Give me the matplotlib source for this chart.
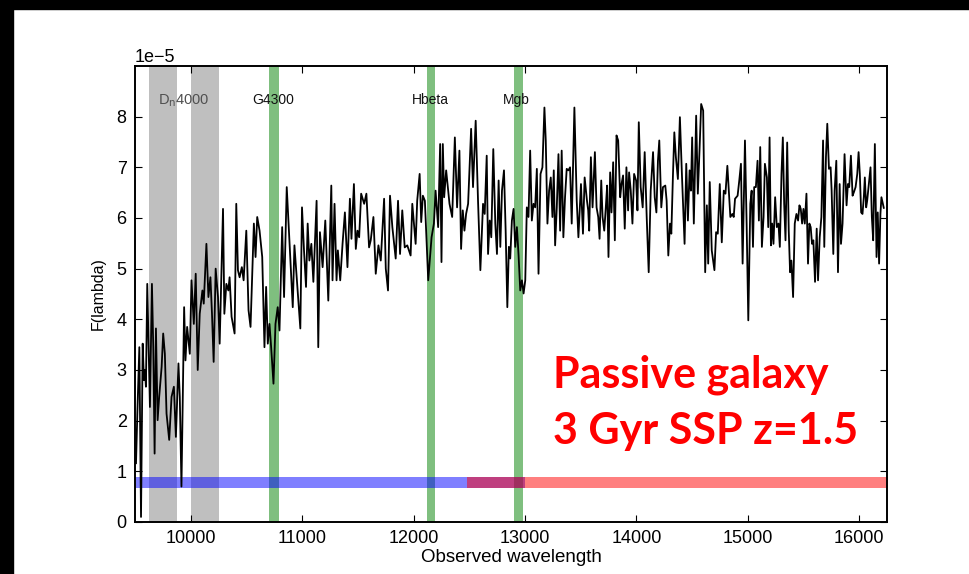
import matplotlib
matplotlib.use("Agg")
import matplotlib.pyplot as plt
import numpy as np
from matplotlib.patches import Rectangle

plt.rcParams['font.family'] = ['Liberation Sans', 'DejaVu Sans']
plt.rcParams['mathtext.default'] = 'regular'

# spectrum (wavelength in A, flux in units of 1e-5)
wave = [9509, 9521, 9539, 9554, 9569, 9580, 9589, 9598, 9610, 9619, 9634, 9652, 9664, 9676, 9688,
        9703, 9717, 9739, 9753, 9768, 9783, 9807, 9828, 9849, 9867, 9890, 9902, 9917, 9941, 9953,
        9968, 9992, 10007, 10028, 10045, 10063, 10081, 10105, 10117, 10141, 10159, 10177, 10191,
        10206, 10224, 10245, 10260, 10290, 10302, 10320, 10338, 10349, 10367, 10394, 10409, 10424,
        10439, 10459, 10475, 10499, 10519, 10537, 10567, 10582, 10597, 10618, 10642, 10662, 10677,
        10692, 10707, 10722, 10743, 10761, 10781, 10797, 10821,
        10838, 10862, 10886, 10916, 10931, 10951, 10984, 10999, 11017, 11035, 11050, 11065, 11083,
        11101, 11130, 11145, 11160, 11184, 11208, 11235, 11262, 11273, 11291, 11309, 11321, 11342,
        11363, 11384, 11407, 11429, 11443, 11465, 11482, 11497, 11512, 11530, 11557, 11577, 11601,
        11616, 11640, 11661, 11685, 11706, 11736, 11751, 11771, 11789, 11810, 11840, 11861, 11879,
        11899, 11921, 11944, 11974, 11989, 12019, 12033, 12055, 12069, 12084, 12102, 12132, 12162,
        12183, 12198, 12221, 12239, 12251, 12263, 12275, 12293, 12311, 12323, 12347, 12371, 12391,
        12412, 12427, 12442, 12457, 12472, 12490, 12517, 12534, 12558, 12579, 12600, 12624, 12639,
        12657, 12669, 12684, 12698, 12716, 12734, 12749, 12764, 12779, 12794, 12812, 12827, 12842,
        12856, 12868, 12883, 12898, 12913, 12928, 12943, 12958, 12973, 12988, 13003, 13017, 13032,
        13047, 13062, 13077, 13092, 13107, 13122, 13140, 13157, 13175, 13187, 13202, 13217, 13232,
        13247, 13259, 13271, 13286, 13301, 13316, 13330, 13345, 13360, 13375, 13390, 13405, 13420,
        13444, 13465, 13480,
        13503, 13521, 13536, 13557, 13568, 13577, 13592, 13607, 13628, 13643, 13658, 13670, 13685,
        13697, 13712, 13726, 13738, 13750, 13765, 13777, 13792, 13807, 13822, 13837, 13855, 13867,
        13881, 13896, 13911, 13926, 13935, 13950, 13965, 13980, 13998, 14010, 14022, 14039, 14057,
        14075, 14093, 14111, 14129, 14150, 14165, 14180, 14194, 14206, 14224, 14239, 14260, 14272,
        14287, 14302, 14314, 14329, 14341, 14355, 14373, 14391, 14409, 14433, 14448, 14463, 14478,
        14490, 14501, 14516, 14537, 14552, 14567, 14582, 14600, 14618, 14633, 14645, 14659, 14677,
        14701, 14716, 14731, 14749, 14767, 14785, 14800, 14817,
        14844, 14862, 14874, 14886, 14909, 14924, 14939, 14954, 14975, 14990, 15005, 15023, 15035,
        15047, 15058, 15073, 15088, 15100, 15112, 15127, 15142, 15154, 15172, 15184, 15196, 15208,
        15219, 15231, 15246, 15261, 15276, 15288, 15303, 15315, 15327, 15339, 15354, 15368, 15380,
        15392, 15407, 15422, 15437, 15452, 15464, 15476, 15488, 15500, 15512, 15527, 15541, 15553,
        15565, 15577, 15589, 15604, 15619, 15631, 15646, 15661, 15676, 15687, 15702, 15714, 15729,
        15744, 15753, 15768, 15780, 15795, 15810, 15825, 15837, 15851, 15869, 15887, 15899, 15911,
        15926, 15941, 15953, 15968, 15983, 15995, 16006, 16018, 16030, 16042, 16051, 16063, 16072,
        16084, 16102, 16114, 16126, 16141, 16156, 16167, 16179, 16191, 16200, 16221]

flux = [1.16, 2.14, 3.45, 0.10, 3.52, 2.80, 3.00, 2.67, 4.70, 3.78, 2.27, 4.70, 3.45, 1.35, 3.82,
        2.01, 2.47, 3.06, 3.72, 3.32, 2.14, 1.62, 2.47, 2.67, 1.68, 3.13, 2.47, 0.70, 4.24, 3.19,
        3.85, 3.32, 4.77, 3.91, 4.90, 3.00, 4.11, 4.57, 4.31, 5.49, 4.44, 4.83, 4.11,
        3.16, 5.00, 4.44, 3.52, 6.18, 4.11, 4.70, 4.57, 4.83, 4.05, 3.72, 6.28, 4.97,
        4.83, 5.03, 4.77, 5.75, 4.18, 3.85, 5.89, 5.23, 6.02, 5.75, 5.23, 3.45, 4.64,
        3.52, 3.91, 3.45, 2.73, 3.91, 4.24, 3.78, 5.82,
        4.44, 6.61, 5.56, 4.24, 5.46, 4.83, 3.82, 6.21, 5.36, 4.64, 5.89, 5.16, 5.49,
        4.74, 6.34, 3.45, 5.72, 5.03, 5.95, 4.37, 6.64, 4.77, 6.28, 4.77, 5.36, 4.77,
        5.49, 6.11, 5.03, 6.38, 5.59, 6.67, 5.39, 5.75, 5.62, 6.48, 6.28, 6.48, 5.42,
        5.56, 6.02, 4.90, 5.46, 5.16, 6.38, 5.00, 4.57, 6.44, 5.82, 5.20, 6.34, 5.29,
        6.15, 5.42, 5.46, 5.26, 6.28, 5.49, 6.34, 6.87, 5.92, 6.44, 6.34, 4.77, 5.62,
        5.89, 6.54, 5.82, 7.46, 5.13, 7.46, 6.41, 6.94, 6.54, 6.28, 6.02, 7.59, 6.21,
        7.33, 5.39, 6.15, 5.75, 6.08, 6.28, 7.76, 6.61, 7.92, 6.34, 4.97, 6.28, 6.08,
        7.23, 5.29, 5.95, 5.62, 7.36, 5.89, 5.29, 6.74, 5.43, 6.54, 6.94, 5.75, 4.24,
        5.43, 5.20, 5.95, 6.18, 5.43, 5.82, 5.26, 4.57, 4.77, 4.51, 4.77, 6.21, 6.02,
        7.33, 5.95, 6.28, 6.21, 6.97, 4.90, 6.87, 7.00, 8.18, 7.53, 5.89, 6.54, 6.80,
        6.02, 6.94, 5.46, 6.21, 7.26, 5.75, 7.33, 5.62, 6.41, 6.97, 6.94, 7.00, 5.89,
        8.18, 6.34, 5.62,
        6.67, 5.69, 6.80, 6.34, 6.15, 5.75, 7.20, 6.21, 7.30, 6.21, 6.02, 5.59, 6.74,
        6.02, 5.75, 6.21, 6.64, 5.23, 6.90, 6.11, 7.10, 5.56, 7.63, 7.53, 6.41, 6.67,
        6.84, 5.79, 7.00, 6.15, 6.90, 6.54, 5.89, 6.87, 6.74, 6.15, 7.89, 6.61, 6.21,
        7.30, 6.02, 4.93, 6.54, 7.30, 6.41, 6.11, 7.13, 7.53, 6.21, 6.61, 6.64, 6.34,
        5.26, 5.89, 5.69, 6.87, 7.69, 7.20, 6.77, 7.99, 6.87, 5.49, 7.07, 5.95, 6.94,
        6.54, 7.59, 5.89, 8.02, 6.48, 7.33, 8.25, 8.12, 4.93, 6.25, 5.10, 6.71, 5.36,
        4.97, 5.72, 5.69, 6.67, 5.52, 6.54, 6.48, 7.03,
        6.02, 6.08, 6.02, 6.38, 6.44, 6.74, 7.07, 5.10, 7.53, 5.89, 3.98, 6.28, 6.54,
        5.43, 6.61, 6.61, 7.13, 5.95, 7.40, 5.43, 6.02, 7.07, 6.80, 5.82, 7.59, 5.46,
        5.89, 5.49, 6.41, 5.82, 5.89, 5.43, 6.87, 7.59, 6.28, 5.56, 7.49, 5.75, 4.93,
        5.16, 4.44, 5.89, 6.08, 5.95, 6.25, 6.18, 5.89, 6.18, 5.89, 6.48, 5.10, 5.89,
        5.82, 5.49, 5.56, 4.74, 5.79, 4.77, 5.62, 6.02, 7.53, 5.43, 7.20, 7.86, 6.97,
        7.00, 6.54, 5.29, 6.54, 7.13, 4.93, 6.67, 5.49, 5.89, 7.26, 6.25, 6.67, 6.61,
        7.23, 6.44, 6.51, 6.61, 6.87, 7.30, 6.87, 6.11, 6.08, 6.41, 6.80, 6.21, 6.34,
        6.61, 7.00, 6.02, 5.56, 7.46, 5.23, 6.11, 5.10, 6.08, 6.41, 6.20]

# index bands (observed frame, z=1.5)
grey_bands = [(9625, 9875), (10000, 10250)]
green_bands = [(10703, 10790), (12120, 12192), (12900, 12980)]
green_names = ['G4300', 'Hbeta', 'Mgb']
green_label_x = [10740, 12150, 12925]
dn_label_x = 9940

# filter coverage strips
blue_range = (9400, 13000)
red_range = (12480, 16300)
strip_y = (0.67, 0.89)

fig = plt.figure(figsize=(9.69, 5.74), dpi=100)
fig.patch.set_facecolor('white')
# black slide edge top/left
fig.patches.append(Rectangle((0, 1 - 9 / 574), 1, 9 / 574, transform=fig.transFigure,
                             color='black', zorder=0))
fig.patches.append(Rectangle((0, 0), 13 / 969, 1, transform=fig.transFigure,
                             color='black', zorder=0))

ax = fig.add_axes([135 / 969, 1 - 522 / 574, 752 / 969, 456 / 574])

for a, b in grey_bands:
    ax.axvspan(a, b, color='gray', alpha=0.5, lw=0, zorder=1)
for a, b in green_bands:
    ax.axvspan(a, b, color='green', alpha=0.5, lw=0, zorder=1)

ax.fill_between(blue_range, strip_y[0] * 1e-5, strip_y[1] * 1e-5, color='blue',
                alpha=0.5, lw=0, zorder=2)
ax.fill_between(red_range, strip_y[0] * 1e-5, strip_y[1] * 1e-5, color='red',
                alpha=0.5, lw=0, zorder=2)

ax.plot(wave, np.array(flux) * 1e-5, color='black', lw=1.3, zorder=3)

ax.text(dn_label_x, 8.32e-5, r'D$_{\rm n}$4000', color='#505050', fontsize=10.5,
        ha='center', va='center', zorder=4)
for name, x in zip(green_names, green_label_x):
    ax.text(x, 8.32e-5, name, color='#111111', fontsize=10, ha='center', va='center', zorder=4)

ax.set_xlim(9500, 16250)
ax.set_ylim(0, 9e-5)
ax.set_xticks([10000, 11000, 12000, 13000, 14000, 15000, 16000])
ax.set_yticks(np.arange(0, 9) * 1e-5)
ax.tick_params(direction='in', top=True, right=True, length=5, width=0.8,
               labelsize=13, pad=6)
ax.yaxis.get_offset_text().set_fontsize(13)
for s in ax.spines.values():
    s.set_linewidth(1.4)

ax.set_xlabel('Observed wavelength', fontsize=13.5, labelpad=1)
ax.set_ylabel('F(lambda)', fontsize=11.5, labelpad=8)

fig.text(553 / 969, 1 - 375 / 574, 'Passive galaxy', color='red', fontsize=31,
         fontweight='bold', family='Lato', ha='left', va='center')
fig.text(553 / 969, 1 - 431 / 574, '3 Gyr SSP z=1.5', color='red', fontsize=31,
         fontweight='bold', family='Lato', ha='left', va='center')

fig.savefig('out.png', dpi=100)
